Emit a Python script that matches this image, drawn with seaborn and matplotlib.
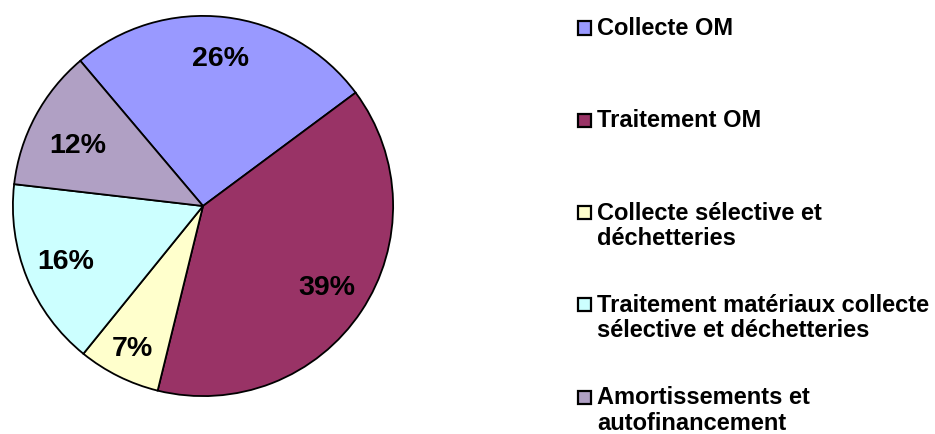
import matplotlib
matplotlib.use('Agg')
import matplotlib.pyplot as plt
import seaborn as sns
import numpy as np
from matplotlib.patches import Rectangle

# Data
categories = ['Collecte OM', 'Traitement OM', 'Collecte sélective et\ndéchetteries',
              'Traitement matériaux collecte\nsélective et déchetteries',
              'Amortissements et\nautofinancement']
shares = [26, 39, 7, 16, 12]
colors = ['#9999FF', '#993366', '#FFFFCC', '#CCFFFF', '#B0A0C4']
label_dist = [0.78, 0.78, 0.84, 0.78, 0.73]
label_turn = [0, 0, 0, 0, 2.7]

sns.set_theme(style='white')
plt.rcParams['font.family'] = ['Liberation Sans', 'DejaVu Sans']
plt.rcParams['font.weight'] = 'bold'

W, H = 935, 434
fig = plt.figure(figsize=(W / 100, H / 100), dpi=100)
fig.patch.set_facecolor('white')

# pie axes: centre (203, 206) px, radius 192 px
cx, cy, r = 203, 206, 192
ax = fig.add_axes([(cx - r) / W, (H - cy - r) / H, 2 * r / W, 2 * r / H])
wedges, texts, autotexts = ax.pie(
    shares, colors=colors, startangle=130.2, counterclock=False,
    autopct='%1.0f%%', pctdistance=0.78,
    wedgeprops=dict(edgecolor='black', linewidth=1.3),
    textprops=dict(fontsize=20.5, fontweight='bold', color='black'))

# nudge percentage labels to match the original placement
for w, t, d, turn in zip(wedges, autotexts, label_dist, label_turn):
    ang = np.deg2rad((w.theta1 + w.theta2) / 2 + turn)
    t.set_position((d * np.cos(ang), d * np.sin(ang)))

ax.set_xlim(-1.01, 1.01)
ax.set_ylim(-1.01, 1.01)
ax.axis('off')

# legend drawn manually so markers line up with the first text line
y0, step = 28, 92.3
for i, (lab, col) in enumerate(zip(categories, colors)):
    yc = y0 + step * i
    sq = 13
    fig.patches.append(Rectangle((578 / W, (H - yc - sq / 2) / H), sq / W, sq / H,
                                 transform=fig.transFigure, facecolor=col,
                                 edgecolor='black', linewidth=1.6))
    fig.text(597 / W, (H - yc + 11) / H, lab, ha='left', va='top',
             fontsize=17, fontweight='bold', color='black', linespacing=1.14)

fig.savefig('out.png', dpi=100, facecolor='white')
